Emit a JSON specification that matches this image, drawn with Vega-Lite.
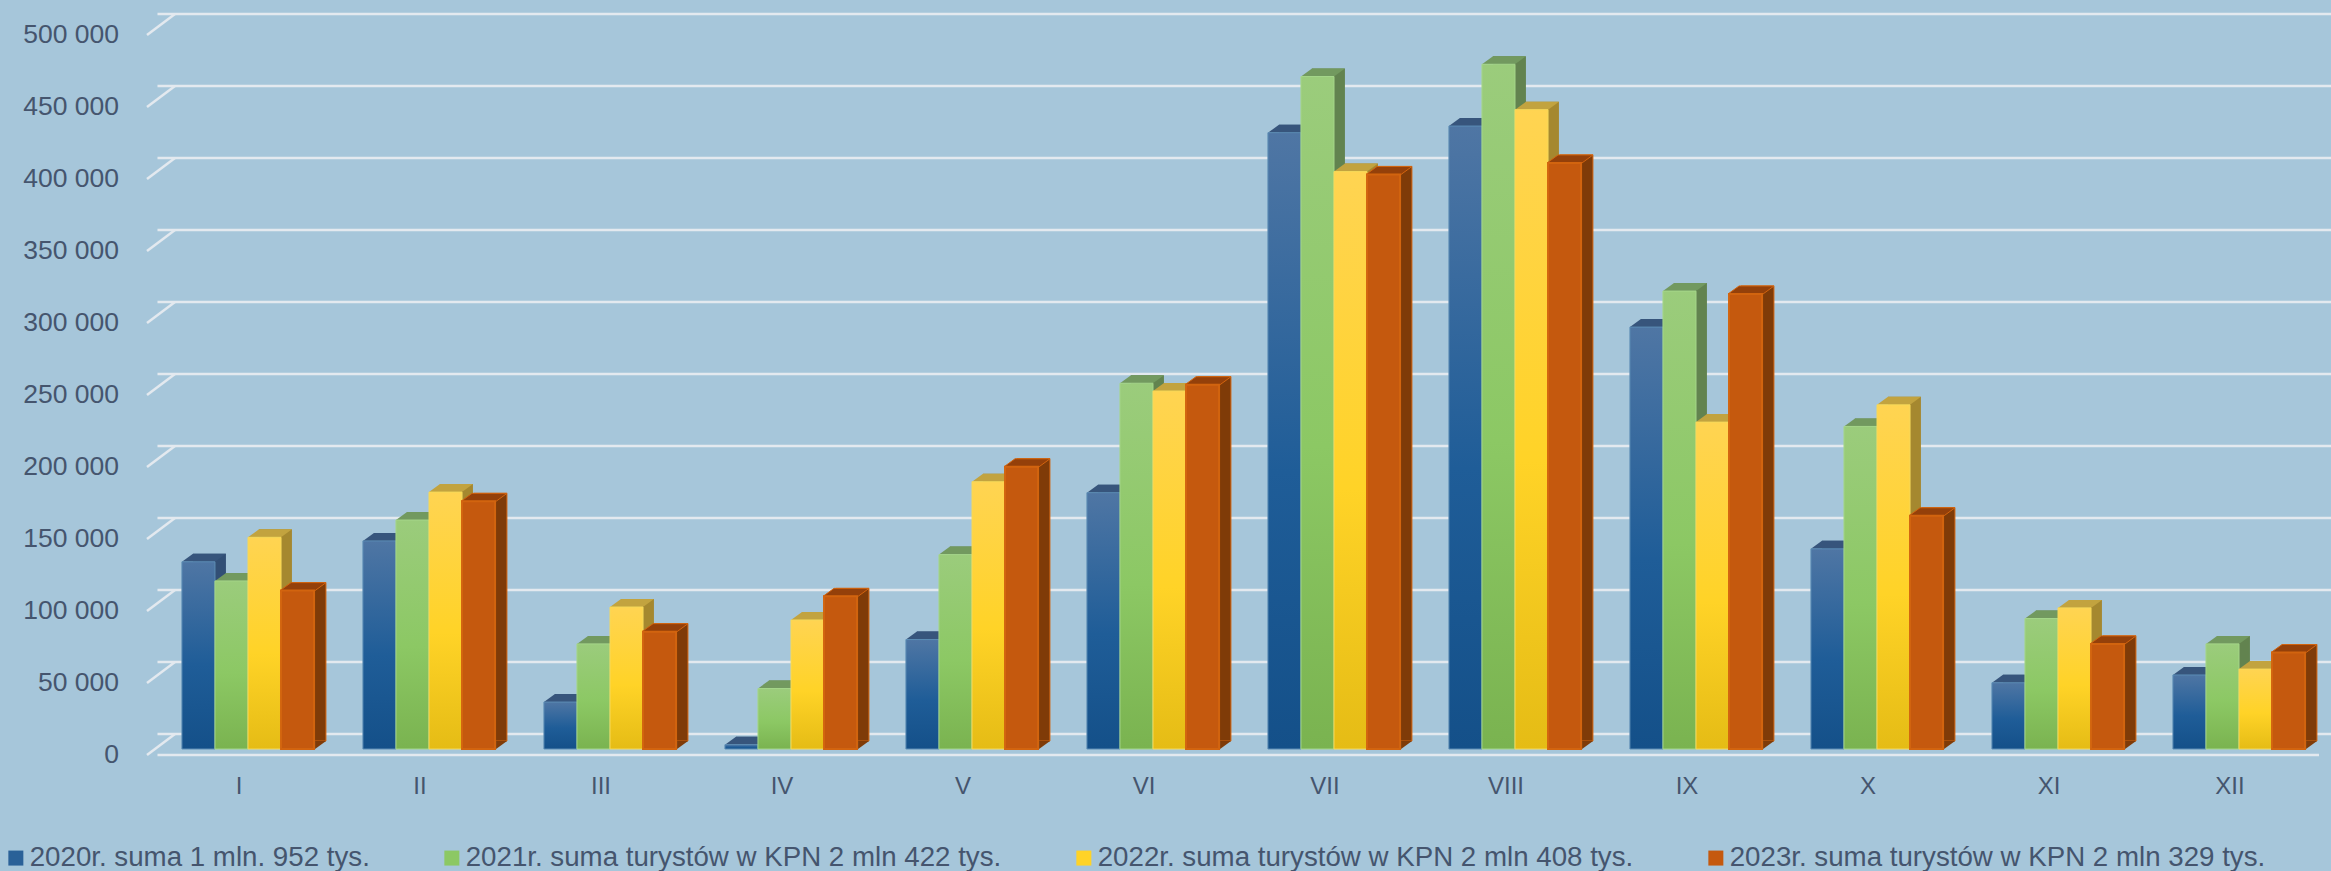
{"$schema":"https://vega.github.io/schema/vega-lite/v6.json","width":2172,"height":720,"autosize":{"type":"none"},"padding":{"left":157.5,"right":1.5,"top":29,"bottom":122},"background":"#A6C6DA","config":{"view":{"stroke":null},"font":"Liberation Sans","axisY":{"title":null,"grid":false,"domain":false,"ticks":false,"tickCount":10,"labelExpr":"replace(format(datum.value,','),',',' ')","labelFont":"Liberation Sans","labelFontSize":26.5,"labelColor":"#45556E","labelPadding":39,"labelOffset":5},"axisX":{"title":null,"labelAngle":0,"domain":false,"ticks":false,"labelFont":"Liberation Sans","labelFontSize":24,"labelColor":"#45556E","labelPadding":25,"labelOffset":-9}},
"datasets":{"levels":[{"level":0},{"level":50000},{"level":100000},{"level":150000},{"level":200000},{"level":250000},{"level":300000},{"level":350000},{"level":400000},{"level":450000},{"level":500000}],"floor":[{"level":0}]},
"data":{"values":[
{"m":"I","s":"2020r. suma 1 mln. 952 tys.","v":130000},{"m":"I","s":"2021r. suma turystów w KPN 2 mln 422 tys.","v":116700},{"m":"I","s":"2022r. suma turystów w KPN 2 mln 408 tys.","v":147000},{"m":"I","s":"2023r. suma turystów w KPN 2 mln 329 tys.","v":110000},
{"m":"II","s":"2020r. suma 1 mln. 952 tys.","v":144500},{"m":"II","s":"2021r. suma turystów w KPN 2 mln 422 tys.","v":159000},{"m":"II","s":"2022r. suma turystów w KPN 2 mln 408 tys.","v":178400},{"m":"II","s":"2023r. suma turystów w KPN 2 mln 329 tys.","v":172000},
{"m":"III","s":"2020r. suma 1 mln. 952 tys.","v":32600},{"m":"III","s":"2021r. suma turystów w KPN 2 mln 422 tys.","v":73000},{"m":"III","s":"2022r. suma turystów w KPN 2 mln 408 tys.","v":98600},{"m":"III","s":"2023r. suma turystów w KPN 2 mln 329 tys.","v":81500},
{"m":"IV","s":"2020r. suma 1 mln. 952 tys.","v":3000},{"m":"IV","s":"2021r. suma turystów w KPN 2 mln 422 tys.","v":42000},{"m":"IV","s":"2022r. suma turystów w KPN 2 mln 408 tys.","v":89600},{"m":"IV","s":"2023r. suma turystów w KPN 2 mln 329 tys.","v":106000},
{"m":"V","s":"2020r. suma 1 mln. 952 tys.","v":76000},{"m":"V","s":"2021r. suma turystów w KPN 2 mln 422 tys.","v":135000},{"m":"V","s":"2022r. suma turystów w KPN 2 mln 408 tys.","v":185600},{"m":"V","s":"2023r. suma turystów w KPN 2 mln 329 tys.","v":196000},
{"m":"VI","s":"2020r. suma 1 mln. 952 tys.","v":178000},{"m":"VI","s":"2021r. suma turystów w KPN 2 mln 422 tys.","v":254000},{"m":"VI","s":"2022r. suma turystów w KPN 2 mln 408 tys.","v":248600},{"m":"VI","s":"2023r. suma turystów w KPN 2 mln 329 tys.","v":253000},
{"m":"VII","s":"2020r. suma 1 mln. 952 tys.","v":428000},{"m":"VII","s":"2021r. suma turystów w KPN 2 mln 422 tys.","v":467000},{"m":"VII","s":"2022r. suma turystów w KPN 2 mln 408 tys.","v":401000},{"m":"VII","s":"2023r. suma turystów w KPN 2 mln 329 tys.","v":399000},
{"m":"VIII","s":"2020r. suma 1 mln. 952 tys.","v":432600},{"m":"VIII","s":"2021r. suma turystów w KPN 2 mln 422 tys.","v":475500},{"m":"VIII","s":"2022r. suma turystów w KPN 2 mln 408 tys.","v":444000},{"m":"VIII","s":"2023r. suma turystów w KPN 2 mln 329 tys.","v":407000},
{"m":"IX","s":"2020r. suma 1 mln. 952 tys.","v":293000},{"m":"IX","s":"2021r. suma turystów w KPN 2 mln 422 tys.","v":318000},{"m":"IX","s":"2022r. suma turystów w KPN 2 mln 408 tys.","v":227000},{"m":"IX","s":"2023r. suma turystów w KPN 2 mln 329 tys.","v":316000},
{"m":"X","s":"2020r. suma 1 mln. 952 tys.","v":139000},{"m":"X","s":"2021r. suma turystów w KPN 2 mln 422 tys.","v":224000},{"m":"X","s":"2022r. suma turystów w KPN 2 mln 408 tys.","v":239000},{"m":"X","s":"2023r. suma turystów w KPN 2 mln 329 tys.","v":162000},
{"m":"XI","s":"2020r. suma 1 mln. 952 tys.","v":46000},{"m":"XI","s":"2021r. suma turystów w KPN 2 mln 422 tys.","v":90600},{"m":"XI","s":"2022r. suma turystów w KPN 2 mln 408 tys.","v":98000},{"m":"XI","s":"2023r. suma turystów w KPN 2 mln 329 tys.","v":73000},
{"m":"XII","s":"2020r. suma 1 mln. 952 tys.","v":51400},{"m":"XII","s":"2021r. suma turystów w KPN 2 mln 422 tys.","v":73000},{"m":"XII","s":"2022r. suma turystów w KPN 2 mln 408 tys.","v":55500},{"m":"XII","s":"2023r. suma turystów w KPN 2 mln 329 tys.","v":67000}
]},
"layer":[
{"data":{"name":"levels"},"mark":{"type":"rule","stroke":"#E3E9EF","strokeWidth":2.5,"xOffset":17.5,"yOffset":-15},"encoding":{"y":{"field":"level","type":"quantitative","scale":{"domain":[0,500000],"nice":false}}}},
{"data":{"name":"levels"},"mark":{"type":"point","shape":"M-101,21 L-73,0","size":4,"filled":false,"opacity":1,"stroke":"#E3E9EF","strokeWidth":2.5,"yOffset":-15},"encoding":{"x":{"datum":"I","type":"nominal"},"y":{"field":"level","type":"quantitative"}}},
{"data":{"name":"floor"},"mark":{"type":"rule","stroke":"#E3E9EF","strokeWidth":2.5,"xOffset":-10.5,"yOffset":6},"encoding":{"y":{"field":"level","type":"quantitative"}}},
{"encoding":{
"x":{"field":"m","type":"nominal","scale":{"domain":["I","II","III","IV","V","VI","VII","VIII","IX","X","XI","XII"],"paddingInner":0.27,"paddingOuter":0.135}},
"xOffset":{"field":"s","type":"nominal","scale":{"type":"band","domain":["2020r. suma 1 mln. 952 tys.","2021r. suma turystów w KPN 2 mln 422 tys.","2022r. suma turystów w KPN 2 mln 408 tys.","2023r. suma turystów w KPN 2 mln 329 tys."],"paddingInner":0,"paddingOuter":0}},
"y":{"field":"v","type":"quantitative","scale":{"domain":[0,500000],"nice":false}}
},"layer":[
{"mark":{"type":"bar","opacity":0},"encoding":{"color":{"field":"s","type":"nominal","scale":{"domain":["2020r. suma 1 mln. 952 tys.","2021r. suma turystów w KPN 2 mln 422 tys.","2022r. suma turystów w KPN 2 mln 408 tys.","2023r. suma turystów w KPN 2 mln 329 tys."],"range":["#2A6198","#8CC864","#FFD327","#C5590E"]},"legend":{"orient":"none","legendX":-155.5,"legendY":815,"direction":"horizontal","columns":4,"gridAlign":"each","columnPadding":68,"title":null,"padding":0,"symbolType":"square","symbolSize":225,"symbolOpacity":1,"symbolStrokeWidth":0,"labelFont":"Liberation Sans","labelFontSize":27.7,"labelColor":"#45556E","labelOffset":0,"labelLimit":800}}}},
{"transform":[{"filter":"indexof(datum.s,'2020r')==0"}],"resolve":{"scale":{"xOffset":"independent"}},"layer":[
{"mark":{"type":"bar","fill":"#324F75","yOffset":-8},"encoding":{"xOffset":{"field":"s","type":"nominal","scale":{"type":"band","domain":["2020r. suma 1 mln. 952 tys.","2021r. suma turystów w KPN 2 mln 422 tys.","2022r. suma turystów w KPN 2 mln 408 tys.","2023r. suma turystów w KPN 2 mln 329 tys."],"range":[11,143],"paddingInner":0,"paddingOuter":0}}}},
{"mark":{"type":"point","shape":"M-16.5,0 L16.5,0 L27.5,-8 L-5.5,-8 Z","size":4,"filled":true,"opacity":1,"fill":"#37557C","strokeWidth":0}},
{"mark":{"type":"point","shape":"M16.5,0 L27.5,-8 L16.5,-8 Z","size":4,"filled":true,"opacity":1,"fill":"#324F75","strokeWidth":0},"encoding":{"y":{"datum":0}}},
{"mark":{"type":"bar","stroke":"#5C8DB5","strokeWidth":1,"fill":{"gradient":"linear","x1":0,"y1":0,"x2":0,"y2":1,"stops":[{"offset":0,"color":"#4F76A4"},{"offset":0.55,"color":"#1F5D98"},{"offset":1,"color":"#145089"}]}}}
]},
{"transform":[{"filter":"indexof(datum.s,'2021r')==0"}],"resolve":{"scale":{"xOffset":"independent"}},"layer":[
{"mark":{"type":"bar","fill":"#62834F","yOffset":-8},"encoding":{"xOffset":{"field":"s","type":"nominal","scale":{"type":"band","domain":["2020r. suma 1 mln. 952 tys.","2021r. suma turystów w KPN 2 mln 422 tys.","2022r. suma turystów w KPN 2 mln 408 tys.","2023r. suma turystów w KPN 2 mln 329 tys."],"range":[11,143],"paddingInner":0,"paddingOuter":0}}}},
{"mark":{"type":"point","shape":"M-16.5,0 L16.5,0 L27.5,-8 L-5.5,-8 Z","size":4,"filled":true,"opacity":1,"fill":"#72995F","strokeWidth":0}},
{"mark":{"type":"point","shape":"M16.5,0 L27.5,-8 L16.5,-8 Z","size":4,"filled":true,"opacity":1,"fill":"#62834F","strokeWidth":0},"encoding":{"y":{"datum":0}}},
{"mark":{"type":"bar","stroke":"#A5D68A","strokeWidth":1,"fill":{"gradient":"linear","x1":0,"y1":0,"x2":0,"y2":1,"stops":[{"offset":0,"color":"#9BCC7C"},{"offset":0.55,"color":"#8CC864"},{"offset":1,"color":"#7AB350"}]}}}
]},
{"transform":[{"filter":"indexof(datum.s,'2022r')==0"}],"resolve":{"scale":{"xOffset":"independent"}},"layer":[
{"mark":{"type":"bar","fill":"#A5882F","yOffset":-8},"encoding":{"xOffset":{"field":"s","type":"nominal","scale":{"type":"band","domain":["2020r. suma 1 mln. 952 tys.","2021r. suma turystów w KPN 2 mln 422 tys.","2022r. suma turystów w KPN 2 mln 408 tys.","2023r. suma turystów w KPN 2 mln 329 tys."],"range":[11,143],"paddingInner":0,"paddingOuter":0}}}},
{"mark":{"type":"point","shape":"M-16.5,0 L16.5,0 L27.5,-8 L-5.5,-8 Z","size":4,"filled":true,"opacity":1,"fill":"#C2A33F","strokeWidth":0}},
{"mark":{"type":"point","shape":"M16.5,0 L27.5,-8 L16.5,-8 Z","size":4,"filled":true,"opacity":1,"fill":"#A5882F","strokeWidth":0},"encoding":{"y":{"datum":0}}},
{"mark":{"type":"bar","stroke":"#F5D95A","strokeWidth":1,"fill":{"gradient":"linear","x1":0,"y1":0,"x2":0,"y2":1,"stops":[{"offset":0,"color":"#FFD452"},{"offset":0.55,"color":"#FFD327"},{"offset":1,"color":"#E5BC15"}]}}}
]},
{"transform":[{"filter":"indexof(datum.s,'2023r')==0"}],"resolve":{"scale":{"xOffset":"independent"}},"layer":[
{"mark":{"type":"bar","fill":"#7F3B08","stroke":"#D2640F","strokeWidth":1,"yOffset":-8},"encoding":{"xOffset":{"field":"s","type":"nominal","scale":{"type":"band","domain":["2020r. suma 1 mln. 952 tys.","2021r. suma turystów w KPN 2 mln 422 tys.","2022r. suma turystów w KPN 2 mln 408 tys.","2023r. suma turystów w KPN 2 mln 329 tys."],"range":[12,144],"paddingInner":0,"paddingOuter":0}}}},
{"mark":{"type":"point","shape":"M-17.5,0 L17.5,0 L28.5,-8 L-6.5,-8 Z","size":4,"filled":true,"opacity":1,"fill":"#94400A","stroke":"#D2640F","strokeWidth":1}},
{"mark":{"type":"point","shape":"M17.5,0 L28.5,-8 L17.5,-8 Z","size":4,"filled":true,"opacity":1,"fill":"#7F3B08","strokeWidth":0},"encoding":{"y":{"datum":0}}},
{"mark":{"type":"bar","stroke":"#D2640F","strokeWidth":2,"fill":"#C5590E"}}
]}
]}
]}
